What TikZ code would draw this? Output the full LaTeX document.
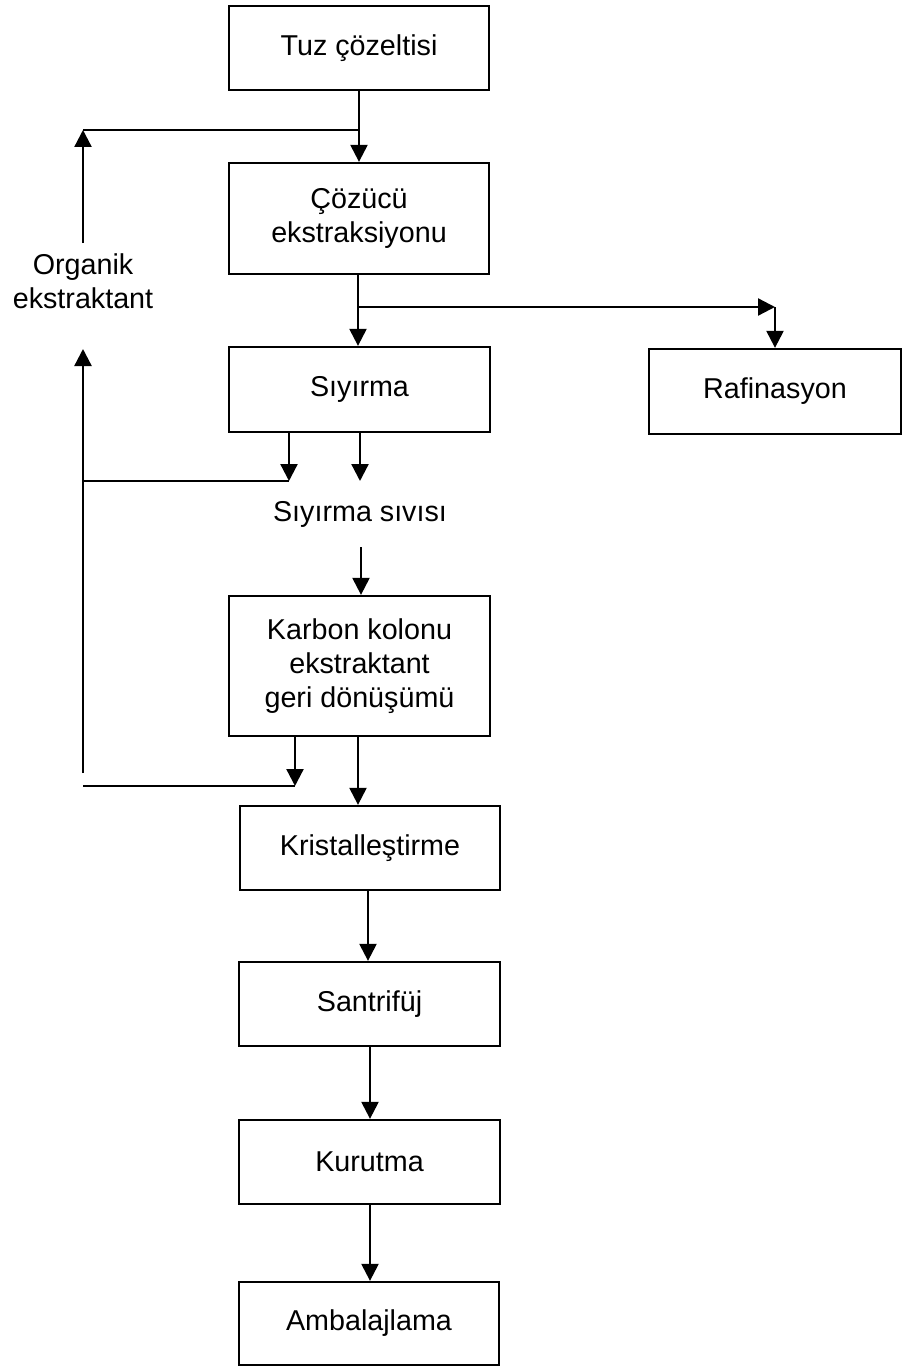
\documentclass[tikz,border=0pt]{standalone}
\usepackage{fontspec}
\setmainfont{Liberation Sans}
\usetikzlibrary{arrows.meta}
\begin{document}
\begin{tikzpicture}[x=1pt,y=-1pt,
  every node/.style={font=\fontsize{28.7}{34}\selectfont, align=center, inner sep=0pt},
  box/.style={draw, line width=2.3pt},
  ln/.style={line width=2.3pt},
  arr/.style={line width=2.3pt, -{Triangle[width=17pt,length=17pt]}}]
\useasboundingbox (0,0) rectangle (902,1367);
% boxes
\node[box, minimum width=260pt, minimum height=84pt] (b1) at (359,48) {Tuz çözeltisi};
\node[box, minimum width=260pt, minimum height=111pt] (b2) at (359,218.5) {Çözücü\\ekstraksiyonu};
\node[box, minimum width=261pt, minimum height=85pt] (b3) at (359.5,389.5) {Sıyırma};
\node[box, minimum width=252pt, minimum height=85pt] (raf) at (775,391.5) {Rafinasyon};
\node[box, minimum width=261pt, minimum height=140pt] (b4) at (359.5,666) {Karbon kolonu\\ekstraktant\\geri dönüşümü};
\node[box, minimum width=260pt, minimum height=84pt] (b5) at (370,848) {Kristalleştirme};
\node[box, minimum width=261pt, minimum height=84pt] (b6) at (369.5,1004) {Santrifüj};
\node[box, minimum width=261pt, minimum height=84pt] (b7) at (369.5,1162) {Kurutma};
\node[box, minimum width=260pt, minimum height=83pt] (b8) at (369,1323.5) {Ambalajlama};
% labels
\node (org) at (83,281) {Organik\\ekstraktant};
\node (siv) at (360,514) {Sıyırma sıvısı};
% coordinates
\coordinate (j1) at (359,130);
\coordinate (lt) at (83,130);
\coordinate (orgbot) at (83,243);
\coordinate (j2) at (358,307);
\coordinate (rt) at (775,307);
\coordinate (s1) at (289,481);
\coordinate (s2) at (360,481);
\coordinate (l481) at (83,481);
\coordinate (sivbot) at (361,547);
\coordinate (upbot) at (83,773);
\coordinate (uptop) at (83,349);
\coordinate (l786) at (83,786);
\coordinate (k1) at (295,786);
% connectors
\draw[arr] (b1.south) -- (b2.north);
\draw[ln] (j1) -- (lt);
\draw[arr] (orgbot) -- (lt);
\draw[arr] (b2.south -| j2) -- (b3.north -| j2);
\draw[arr] (j2) -- (rt);
\draw[arr] (rt) -- (raf.north -| rt);
\draw[arr] (b3.south -| s1) -- (s1);
\draw[arr] (b3.south -| s2) -- (s2);
\draw[ln] (l481) -- (s1);
\draw[arr] (sivbot) -- (b4.north -| sivbot);
\draw[arr] (upbot) -- (uptop);
\draw[ln] (l786) -- (k1);
\draw[arr] (b4.south -| k1) -- (k1);
\draw[arr] (b4.south -| j2) -- (b5.north -| j2);
\draw[arr] (b5.south -| 368,0) -- (b6.north -| 368,0);
\draw[arr] (b6.south -| 370,0) -- (b7.north -| 370,0);
\draw[arr] (b7.south -| 370,0) -- (b8.north -| 370,0);
\end{tikzpicture}
\end{document}
